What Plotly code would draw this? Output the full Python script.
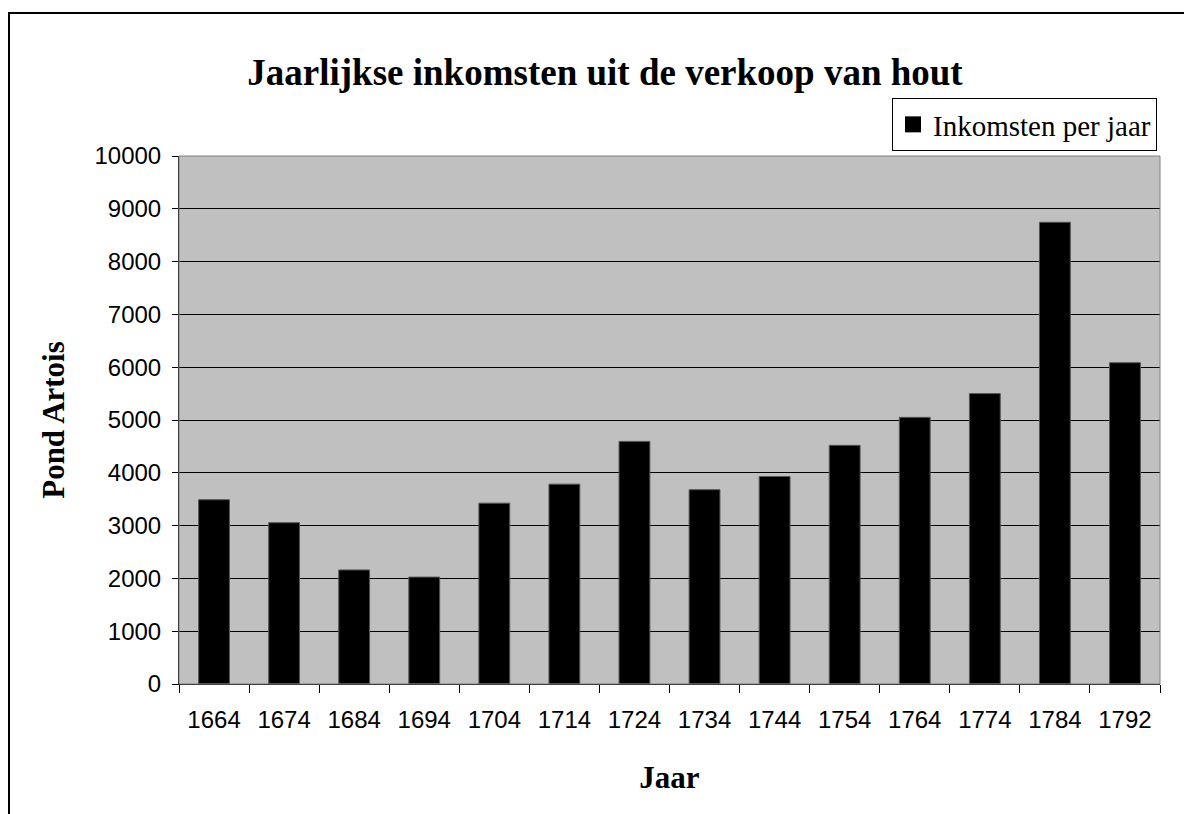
import plotly.graph_objects as go

years = ["1664", "1674", "1684", "1694", "1704", "1714", "1724", "1734",
         "1744", "1754", "1764", "1774", "1784", "1792"]
income = [3490, 3055, 2160, 2025, 3425, 3785, 4595, 3680,
          3930, 4520, 5050, 5500, 8745, 6085]
series_name = "Inkomsten per jaar"

W, H = 1184, 814
L, R, T, B = 179, 24, 156, 130
SERIF = "Liberation Serif, Times New Roman, serif"
SANS = "Liberation Sans, Arial, sans-serif"

fig = go.Figure()
fig.add_trace(go.Bar(
    x=years, y=income, name=series_name, showlegend=False,
    marker=dict(color="black", line=dict(color="#555555", width=1)),
    width=0.44,
))
# legend entry with a larger square swatch
fig.add_trace(go.Scatter(
    x=[None], y=[None], mode="markers", name=series_name,
    marker=dict(symbol="square", size=18, color="black"),
))

fig.update_layout(
    width=W, height=H,
    margin=dict(l=L, r=R, t=T, b=B, autoexpand=False),
    paper_bgcolor="white", plot_bgcolor="#c0c0c0",
    title=dict(text="<b>Jaarlijkse inkomsten uit de verkoop van hout</b>",
               x=605 / W, xanchor="center", y=1 - 72 / H, yanchor="middle",
               font=dict(family=SERIF, size=37, color="black")),
    showlegend=True,
    legend=dict(xref="container", yref="container",
                x=1157 / W, xanchor="right", y=1 - 98 / H, yanchor="top",
                bgcolor="white", bordercolor="black", borderwidth=1,
                font=dict(family=SERIF, size=29, color="black"),
                itemwidth=30, tracegroupgap=0),
    xaxis=dict(
        type="category", tickson="boundaries", ticks="outside", ticklen=8, tickcolor="black",
        showline=True, linecolor="black", linewidth=1, mirror=False,
        showgrid=False, ticklabelstandoff=14,
        tickfont=dict(family=SANS, size=24, color="black"),
        title=dict(text="<b>Jaar</b>", standoff=34,
                   font=dict(family=SERIF, size=31, color="black")),
    ),
    yaxis=dict(
        range=[0, 10000], dtick=1000, tickformat="d", ticks="outside", ticklen=6, tickcolor="black",
        showline=True, linecolor="black", linewidth=1,
        showgrid=True, gridcolor="black", gridwidth=1,
        zeroline=False, ticklabelstandoff=6,
        tickfont=dict(family=SANS, size=24, color="black"),
        title=dict(text="<b>Pond Artois</b>", standoff=20,
                   font=dict(family=SERIF, size=31, color="black")),
    ),
    bargap=0.56,
)

# plot area border (gray top/right)
fig.add_shape(type="rect", xref="paper", yref="paper", x0=0, x1=1, y0=0, y1=1,
              line=dict(color="#808080", width=1), fillcolor="rgba(0,0,0,0)", layer="above")
fig.update_xaxes(layer="above traces")
fig.update_yaxes(layer="above traces")
# outer chart border
fig.add_shape(type="rect", xref="paper", yref="paper",
              x0=(9 - L) / (W - L - R), x1=(W + 5 - L) / (W - L - R),
              y0=-(H + 5 - (H - B)) / (H - T - B), y1=1 + (T - 13) / (H - T - B),
              line=dict(color="black", width=2), fillcolor="rgba(0,0,0,0)", layer="above")

fig.write_html("out.html", config={"displayModeBar": False},
               post_script="document.body.style.margin='0';")
